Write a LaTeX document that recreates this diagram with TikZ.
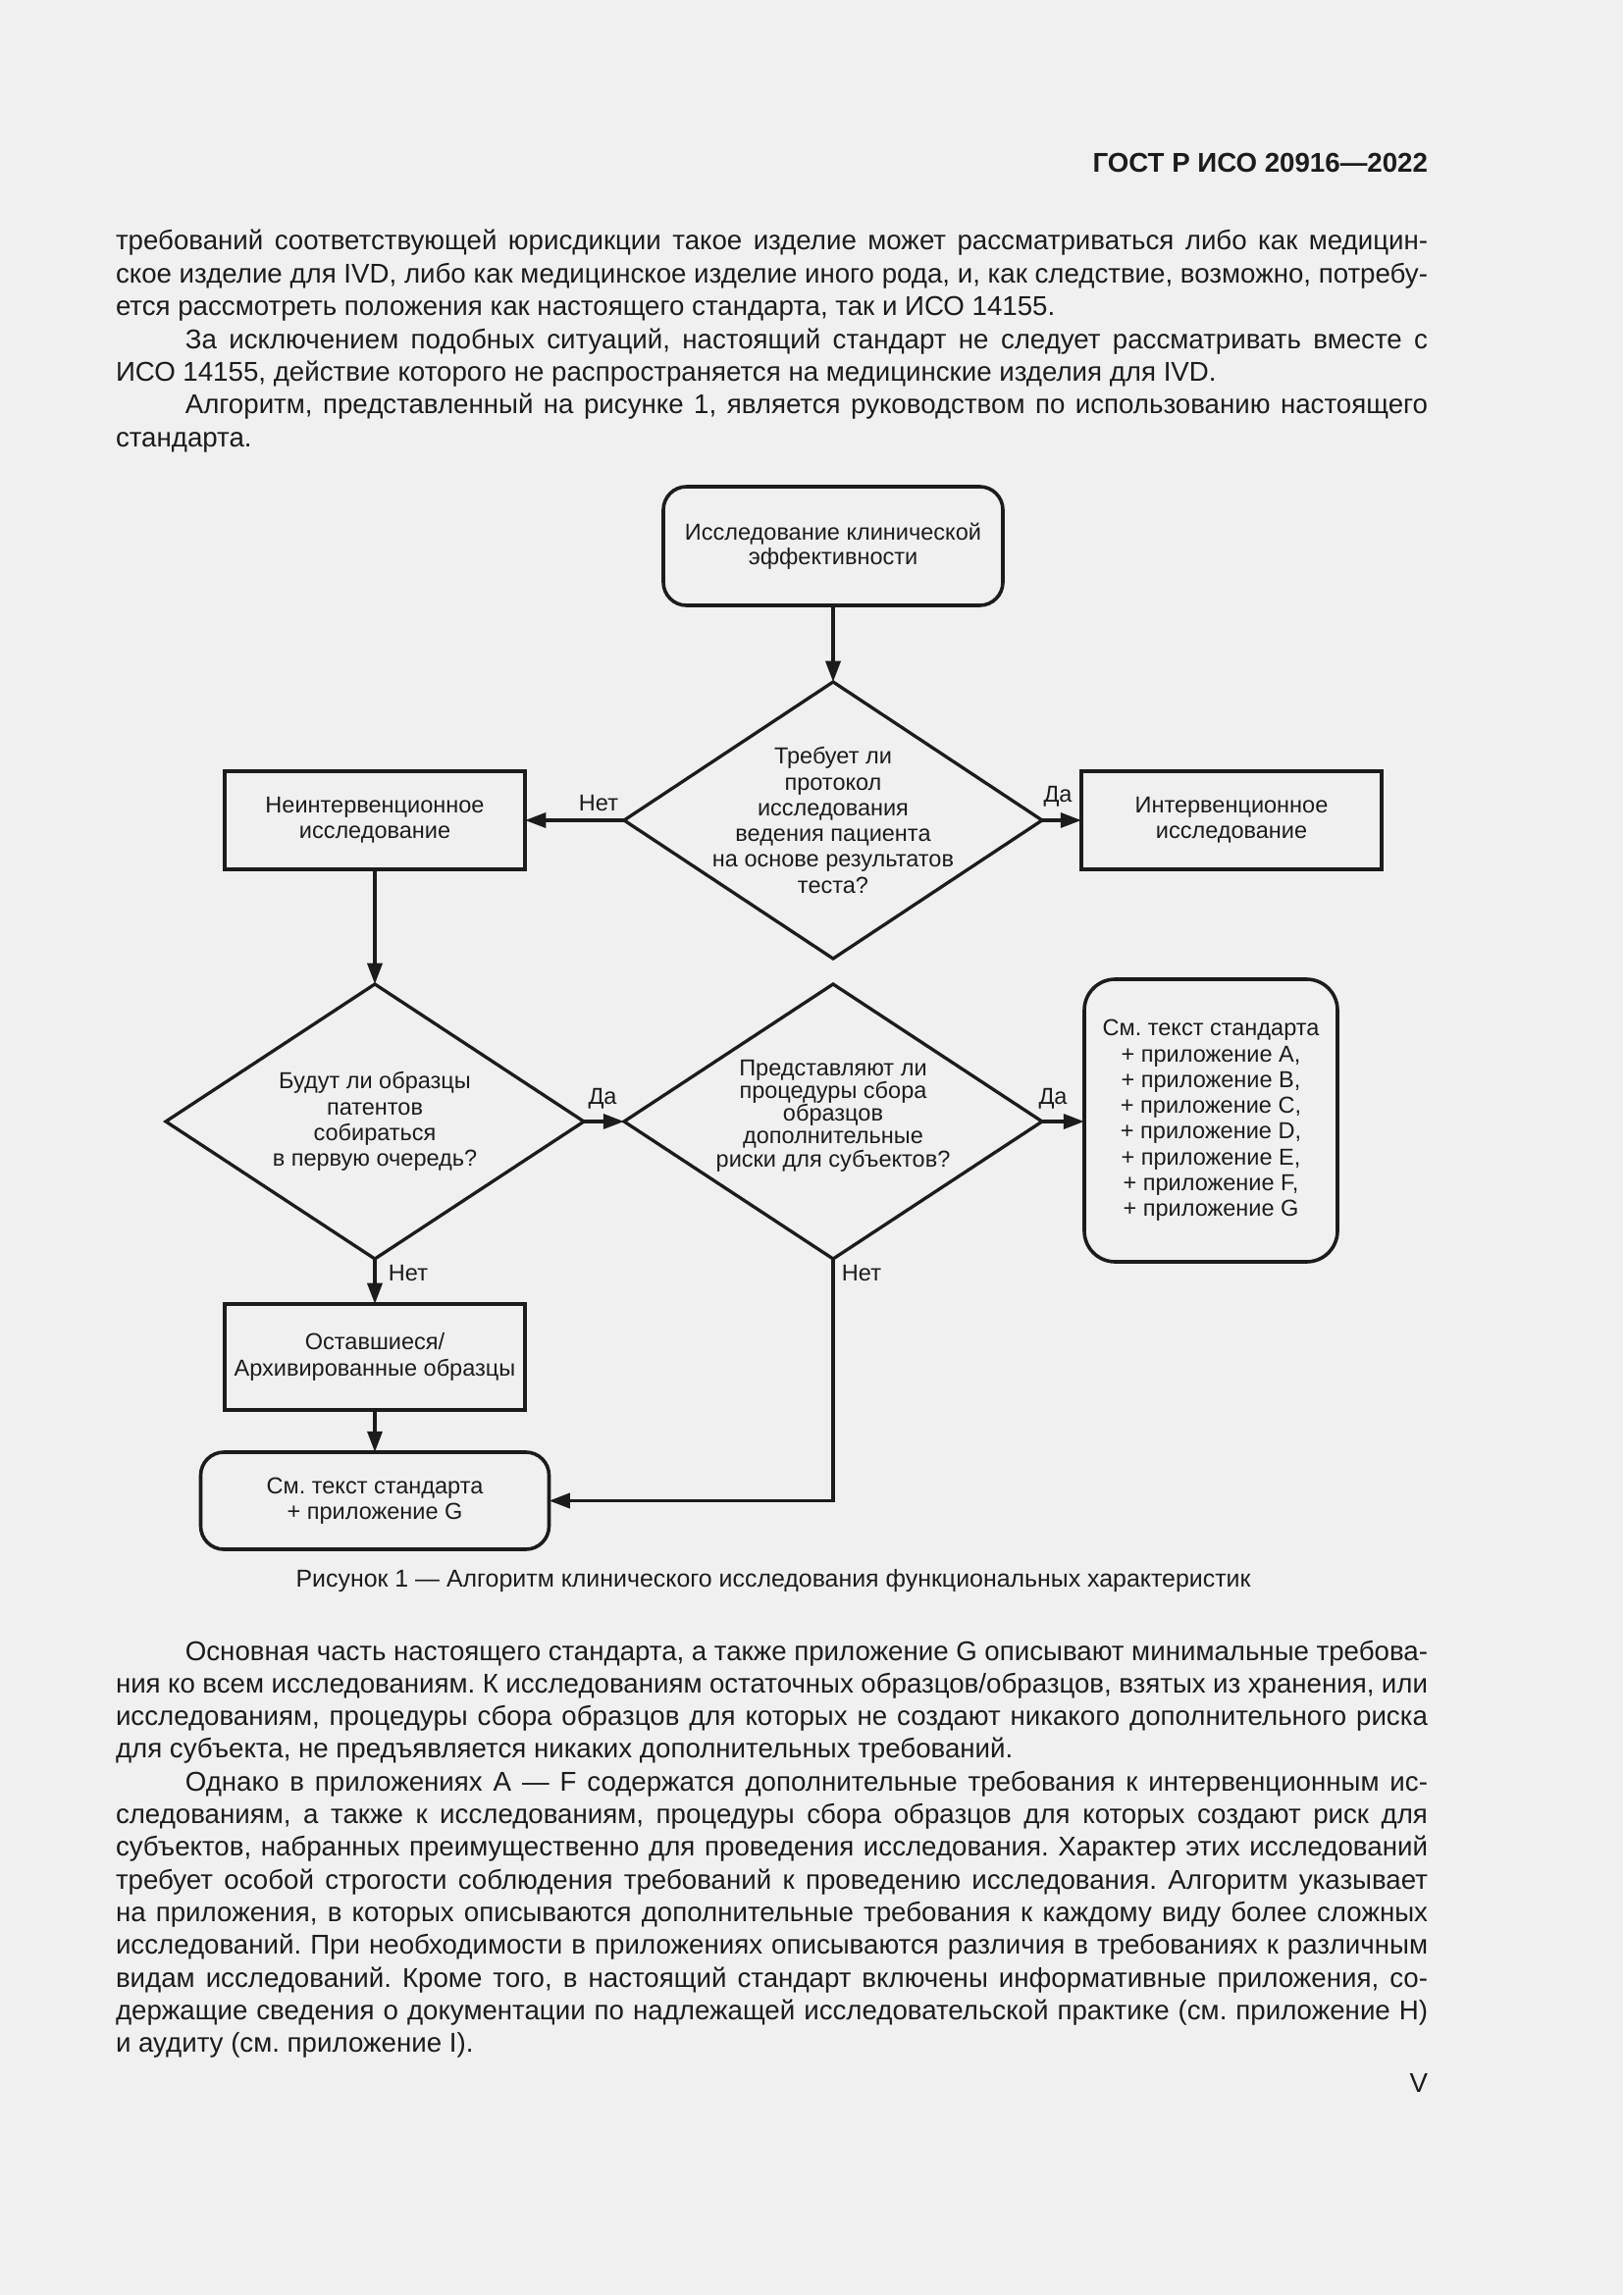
\documentclass[tikz,border=0pt]{standalone}
\usepackage{fontspec}
\setmainfont{Liberation Sans}
\usetikzlibrary{arrows.meta,shapes.geometric}
\definecolor{pagebg}{RGB}{240,240,240}
\definecolor{ink}{RGB}{28,28,28}
\newcommand\pxl[1]{#1*0.127mm}
\newcommand\jline[1]{\makebox[169.8mm][s]{#1}}
\frenchspacing
\begin{document}
\begin{tikzpicture}[x=0.127mm,y=-0.127mm,
  bodytxt/.style={anchor=base west,inner sep=0pt,outer sep=0pt,text=ink,font=\fontsize{10}{12}\selectfont},
  fctxt/.style={text=ink,font=\fontsize{8.5}{9.5}\selectfont,align=center,inner sep=0pt},
  sqbox/.style={fctxt,draw=ink,line width=1.3pt,outer sep=0pt},
  rbox/.style={sqbox,rounded corners=3mm},
  dia/.style={draw=ink,line width=1.2pt,shape=diamond,inner sep=0pt,outer sep=0pt},
  arr/.style={draw=ink,line width=1.3pt,-{Triangle[length=2.7mm,width=1.9mm]}},
  lbl/.style={text=ink,font=\fontsize{8.5}{9.5}\selectfont,inner sep=0pt}
]
\fill[pagebg] (0,0) rectangle (1654,2339);
\useasboundingbox (0,0) rectangle (1654,2339);

% header
\node[bodytxt,anchor=base east,font=\fontsize{10}{12}\selectfont\bfseries] (hdr) at (1455,176) {ГОСТ Р ИСО 20916—2022};

% top text
\node[bodytxt] (p1) at (118,255) {\jline{требований соответствующей юрисдикции такое изделие может рассматриваться либо как медицин-}};
\node[bodytxt] (p2) at (118,288.4) {\jline{ское изделие для IVD, либо как медицинское изделие иного рода, и, как следствие, возможно, потребу-}};
\node[bodytxt] (p3) at (118,321.8) {ется рассмотреть положения как настоящего стандарта, так и ИСО 14155.};
\node[bodytxt] (p4) at (118,355.2) {\jline{\hspace*{9mm}За исключением подобных ситуаций, настоящий стандарт не следует рассматривать вместе с}};
\node[bodytxt] (p5) at (118,388.6) {ИСО 14155, действие которого не распространяется на медицинские изделия для IVD.};
\node[bodytxt] (p6) at (118,422) {\jline{\hspace*{9mm}Алгоритм, представленный на рисунке 1, является руководством по использованию настоящего}};
\node[bodytxt] (p7) at (118,455.4) {стандарта.};

% flowchart
\node[rbox,font=\fontsize{8.5}{9}\selectfont,minimum width=\pxl{346},minimum height=\pxl{121}] (start) at (849,556.5) {Исследование клинической\\эффективности};

\node[dia,minimum width=\pxl{426},minimum height=\pxl{282}] (d1) at (849,836) {};
\node[fctxt] (d1t) at (849,836) {Требует ли\\протокол\\исследования\\ведения пациента\\на основе результатов\\теста?};

\node[sqbox,minimum width=\pxl{306},minimum height=\pxl{100}] (intv) at (1255,836) {Интервенционное\\исследование};
\node[sqbox,minimum width=\pxl{306},minimum height=\pxl{100}] (nonint) at (382,836) {Неинтервенционное\\исследование};

\node[dia,minimum width=\pxl{426},minimum height=\pxl{280}] (d2) at (382,1143) {};
\node[fctxt] (d2t) at (382,1143) {Будут ли образцы\\патентов\\собираться\\в первую очередь?};

\node[dia,minimum width=\pxl{426},minimum height=\pxl{280}] (d3) at (849,1143) {};
\node[fctxt,font=\fontsize{8.5}{8.4}\selectfont] (d3t) at (849,1137) {Представляют ли\\процедуры сбора\\образцов\\дополнительные\\риски для субъектов?};

\node[rbox,rounded corners=4mm,minimum width=\pxl{258},minimum height=\pxl{288}] (res) at (1234,1142) {См. текст стандарта\\+ приложение A,\\+ приложение B,\\+ приложение C,\\+ приложение D,\\+ приложение E,\\+ приложение F,\\+ приложение G};

\node[sqbox,minimum width=\pxl{306},minimum height=\pxl{108}] (arch) at (382,1383) {Оставшиеся/\\Архивированные образцы};
\node[rbox,minimum width=\pxl{355},minimum height=\pxl{99}] (resg) at (382,1529.5) {См. текст стандарта\\+ приложение G};

\draw[arr] (start.south) -- (d1.north);
\draw[arr] (d1.west) -- (nonint.east);
\draw[arr] (d1.east) -- (intv.west);
\draw[arr] (nonint.south) -- (d2.north);
\draw[arr] (d2.east) -- (d3.west);
\draw[arr] (d3.east) -- (d3.east -| res.west);
\draw[arr] (d2.south) -- (arch.north);
\draw[arr] (arch.south) -- (resg.north);
\draw[arr] (d3.south) |- (resg.east);

\node[lbl] (l1) at (610,819) {Нет};
\node[lbl] (l2) at (1078,812) {Да};
\node[lbl] (l3) at (614,1120) {Да};
\node[lbl] (l4) at (1073,1120) {Да};
\node[lbl] (l5) at (416,1298) {Нет};
\node[lbl] (l6) at (878,1298) {Нет};

% caption
\node[bodytxt,anchor=base,font=\fontsize{9}{11}\selectfont] (cap) at (788,1617) {Рисунок 1 — Алгоритм клинического исследования функциональных характеристик};

% bottom text
\node[bodytxt] (b1) at (118,1692) {\jline{\hspace*{9mm}Основная часть настоящего стандарта, а также приложение G описывают минимальные требова-}};
\node[bodytxt] (b2) at (118,1725.3) {\jline{ния ко всем исследованиям. К исследованиям остаточных образцов/образцов, взятых из хранения, или}};
\node[bodytxt] (b3) at (118,1758.6) {\jline{исследованиям, процедуры сбора образцов для которых не создают никакого дополнительного риска}};
\node[bodytxt] (b4) at (118,1791.9) {для субъекта, не предъявляется никаких дополнительных требований.};
\node[bodytxt] (b5) at (118,1825.2) {\jline{\hspace*{9mm}Однако в приложениях A — F содержатся дополнительные требования к интервенционным ис-}};
\node[bodytxt] (b6) at (118,1858.5) {\jline{следованиям, а также к исследованиям, процедуры сбора образцов для которых создают риск для}};
\node[bodytxt] (b7) at (118,1891.8) {\jline{субъектов, набранных преимущественно для проведения исследования. Характер этих исследований}};
\node[bodytxt] (b8) at (118,1925.1) {\jline{требует особой строгости соблюдения требований к проведению исследования. Алгоритм указывает}};
\node[bodytxt] (b9) at (118,1958.4) {\jline{на приложения, в которых описываются дополнительные требования к каждому виду более сложных}};
\node[bodytxt] (b10) at (118,1991.7) {\jline{исследований. При необходимости в приложениях описываются различия в требованиях к различным}};
\node[bodytxt] (b11) at (118,2025) {\jline{видам исследований. Кроме того, в настоящий стандарт включены информативные приложения, со-}};
\node[bodytxt] (b12) at (118,2058.3) {\jline{держащие сведения о документации по надлежащей исследовательской практике (см. приложение H)}};
\node[bodytxt] (b13) at (118,2091.6) {и аудиту (см. приложение I).};

\node[bodytxt,anchor=base east] (pg) at (1455,2132) {V};
\end{tikzpicture}
\end{document}
